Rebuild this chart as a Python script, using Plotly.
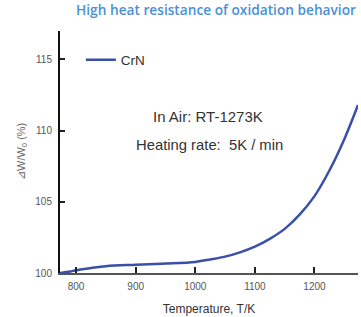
import plotly.graph_objects as go

temperature = [773, 790, 800, 825, 850, 900, 950, 1000, 1025, 1050, 1075, 1100,
               1125, 1150, 1175, 1200, 1225, 1250, 1273]
mass_gain = [100.0, 100.1, 100.2, 100.35, 100.48, 100.58, 100.66, 100.78, 100.95,
             101.15, 101.45, 101.85, 102.4, 103.1, 104.1, 105.4, 107.2, 109.4, 111.8]
x_ticks = [800, 900, 1000, 1100, 1200]
y_ticks = [100, 105, 110, 115]
series_name = "CrN"

fig = go.Figure()
fig.add_trace(go.Scatter(x=temperature, y=mass_gain, mode="lines", name=series_name,
                         line=dict(color="#3a4fa8", width=2.5, shape="spline")))

fig.update_layout(
    width=361, height=317,
    margin=dict(l=60, r=3, t=31, b=44),
    paper_bgcolor="white", plot_bgcolor="white",
    font=dict(family="Liberation Sans, Arial, sans-serif", color="#444", size=10),
    showlegend=True,
    legend=dict(x=0.07, y=0.88, xanchor="left", yanchor="middle",
                bgcolor="rgba(0,0,0,0)", font=dict(size=13.5, color="#333"),
                itemwidth=30),
)
fig.update_xaxes(range=[773, 1273], tickvals=x_ticks, ticks="inside", ticklen=6,
                 tickcolor="#222", tickwidth=1.5, ticklabelstandoff=3,
                 showline=True, linecolor="#555", linewidth=1.5, showgrid=False,
                 zeroline=False, tickfont=dict(size=10, color="#555"),
                 title=dict(text="Temperature, T/K", font=dict(size=12, color="#333"),
                            standoff=14))
fig.update_yaxes(range=[100, 117], tickvals=y_ticks, ticks="inside", ticklen=5,
                 tickcolor="#222", tickwidth=1.5, ticklabelstandoff=4,
                 showline=True, linecolor="#111", linewidth=2, showgrid=False,
                 zeroline=False, tickfont=dict(size=10, color="#555"))

fig.add_annotation(text="⊿W/W<sub>0</sub> (%)", xref="paper", yref="paper",
                   x=0, y=0.5, xanchor="center", yanchor="middle", xshift=-38,
                   textangle=-90, showarrow=False, font=dict(size=11, color="#666"))
fig.add_annotation(text="High heat resistance of oxidation behavior", xref="paper", yref="paper",
                   x=1.0, y=1.0, xanchor="right", yanchor="bottom", yshift=10, showarrow=False,
                   font=dict(family="Open Sans, sans-serif", size=13.7, color="#4a90d6", weight=600))
fig.add_annotation(text="In Air: RT-1273K", x=1021, y=111.0, showarrow=False,
                   font=dict(size=15, color="#333"))
fig.add_annotation(text="Heating rate:  5K / min", x=1023, y=109.0, showarrow=False,
                   font=dict(size=14.8, color="#333"))

fig.write_html("out.html", config={"displayModeBar": False},
               post_script="document.body.style.margin='0';")
